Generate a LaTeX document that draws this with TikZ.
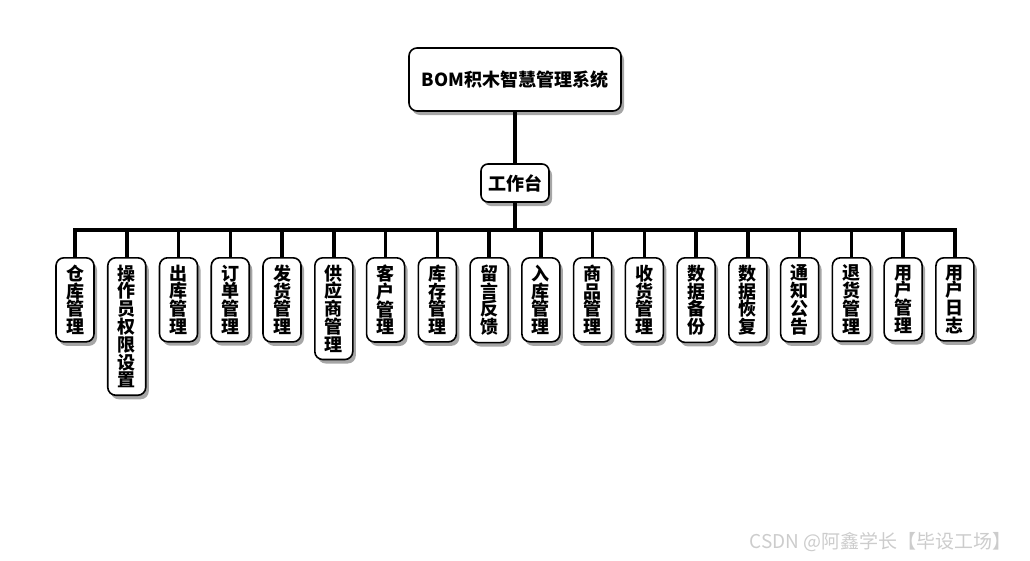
\documentclass[tikz,border=0pt]{standalone}
\usepackage{fontspec}
\setmainfont{Noto Sans CJK SC}
\usetikzlibrary{shadows}

\begin{document}
\begin{tikzpicture}[x=1pt, y=-1pt,
    box/.style={draw=black, line width=1.6pt, rounded corners=8pt, fill=white,
      drop shadow={shadow xshift=3pt, shadow yshift=-4pt, opacity=0.35, fill=black}},
    leaf/.style={box, anchor=north, minimum width=38pt, inner xsep=0pt, inner ysep=7pt,
      align=center, font=\bfseries\fontsize{18}{17.8}\selectfont},
    link/.style={line width=3.5pt}]

    \useasboundingbox (0,0) rectangle (1030,560);

    \node[box, minimum width=212pt, minimum height=63pt, font=\bfseries\fontsize{18}{20}\selectfont] (sys) at (515,79.5) {BOM积木智慧管理系统};
    \node[box, minimum width=68pt, minimum height=38pt, rounded corners=7pt, font=\bfseries\fontsize{18}{20}\selectfont] (desk) at (515,183) {工作台};
    \coordinate (bar) at (515,230);

    \foreach \txt [count=\i] in {{仓\\库\\管\\理}, {操\\作\\员\\权\\限\\设\\置}, {出\\库\\管\\理}, {订\\单\\管\\理},
        {发\\货\\管\\理}, {供\\应\\商\\管\\理}, {客\\户\\管\\理}, {库\\存\\管\\理}, {留\\言\\反\\馈},
        {入\\库\\管\\理}, {商\\品\\管\\理}, {收\\货\\管\\理}, {数\\据\\备\\份}, {数\\据\\恢\\复},
        {通\\知\\公\\告}, {退\\货\\管\\理}, {用\\户\\管\\理}, {用\\户\\日\\志}}
        \node[leaf] (m\i) at ({75+(\i-1)*51.76},257) {\txt};

    \draw[link] (sys) -- (desk);
    \draw[link] (desk) -- (bar);
    \draw[link] (m1.north) -- (m1.north |- bar) -- (m18.north |- bar) -- (m18.north);
    \foreach \i in {2,...,17}
        \draw[link] (m\i.north |- bar) -- (m\i.north);

    \node[anchor=east, text=gray!40, font=\fontsize{19}{21}\selectfont] (mark) at (1015,542) {CSDN @阿鑫学长【毕设工场】};
\end{tikzpicture}
\end{document}
